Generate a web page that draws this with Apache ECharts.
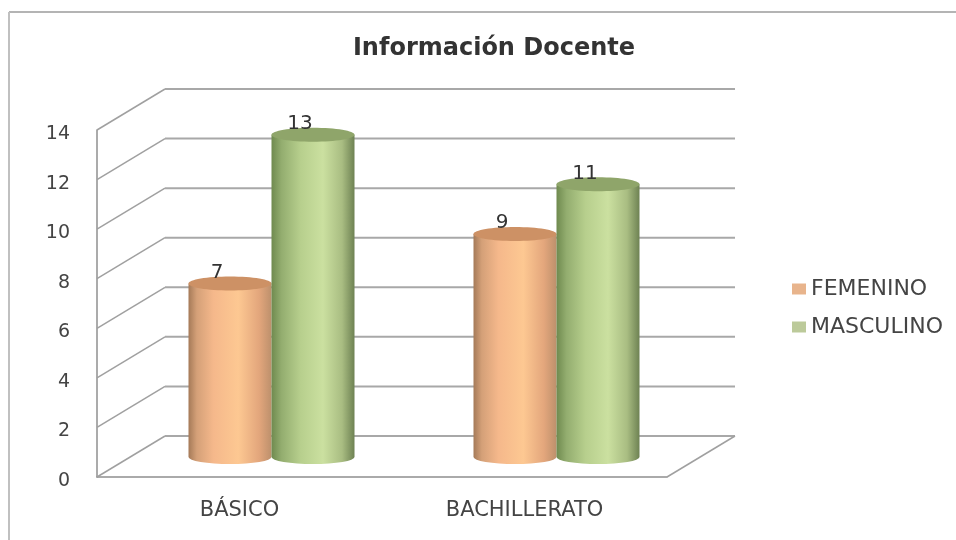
<!DOCTYPE html>
<html><head><meta charset="utf-8">
<style>html,body{margin:0;padding:0;background:#fff}#c{width:956px;height:540px}</style>
<script src="https://cdn.jsdelivr.net/npm/echarts@6/dist/echarts.min.js"></script>
</head><body><div id="c"></div>
<script>
const categories = ['BÁSICO', 'BACHILLERATO'];
const femenino = [7, 9];
const masculino = [13, 11];
const ticks = [0, 2, 4, 6, 8, 10, 12, 14];
const FONT = '"DejaVu Sans"';
const DX = 68, DY = -41;

function grad(stops){
  return {type:'linear',x:0,y:0,x2:1,y2:0,colorStops:stops.map(s=>({offset:s[0],color:s[1]}))};
}
const orangeBody = grad([[0,'#a57a58'],[0.1,'#d4a078'],[0.3,'#f5b88b'],[0.6,'#fdc892'],[0.85,'#e3a67c'],[1,'#bd906c']]);
const greenBody = grad([[0,'#6f8a4f'],[0.12,'#93ad6f'],[0.35,'#b7cf8d'],[0.62,'#cbe0a0'],[0.85,'#a9bd82'],[1,'#6e8253']]);

function cyl(side, body, topColor){
  return function(params, api){
    const cat = api.value(0), v = api.value(1);
    const rx = 41.5, ry = 7, depth = -20;
    const cx = api.coord([cat,0])[0] + 32 + side*41.5;
    const yb = api.coord([cat,0])[1] + depth;
    const yt = api.coord([cat,v])[1] + depth;
    return {type:'group',children:[
      {type:'path',shape:{pathData:
        `M${cx-rx} ${yt} L${cx-rx} ${yb} A${rx} ${ry} 0 0 0 ${cx+rx} ${yb} L${cx+rx} ${yt} Z`,
        x:cx-rx,y:yt,width:rx*2,height:yb-yt+ry,layout:'cover'},style:{fill:body}},
      {type:'ellipse',shape:{cx:cx,cy:yt,rx:rx,ry:ry},style:{fill:topColor}},
      {type:'text',x:cx-13,y:yt-11,style:{text:String(v),font:'20px '+FONT,fill:'#333',align:'center',verticalAlign:'middle'}}
    ]};
  };
}

const option = {
  animation:false,
  title:{text:'Información Docente',left:489,top:32,textAlign:'center',
    textStyle:{fontFamily:FONT,fontWeight:'bold',fontSize:24,color:'#333'}},
  legend:{orient:'vertical',left:787,top:273,itemWidth:14,itemHeight:11,itemGap:16,icon:'rect',
    data:['FEMENINO','MASCULINO'],
    textStyle:{fontFamily:FONT,fontSize:22,color:'#444'}},
  grid:{left:97,right:289,top:130,bottom:63},
  xAxis:{type:'category',data:categories,
    axisLine:{lineStyle:{color:'#8f8f8f',width:1.5}},axisTick:{show:false},
    axisLabel:{fontFamily:FONT,fontSize:21,color:'#444',margin:23}},
  yAxis:{type:'value',min:0,max:14,interval:2,
    axisLine:{show:true,lineStyle:{color:'#8f8f8f',width:1.5}},axisTick:{show:false},
    splitLine:{show:false},
    axisLabel:{fontFamily:FONT,fontSize:19,color:'#444',margin:27,verticalAlign:'top',lineHeight:8}},
  graphic:[
    {type:'line',silent:true,shape:{x1:9,y1:12,x2:956,y2:12},style:{stroke:'#b4b4b4',lineWidth:2}},
    {type:'line',silent:true,shape:{x1:9,y1:12,x2:9,y2:540},style:{stroke:'#c0c0c0',lineWidth:2}}
  ],
  series:[
    {type:'custom',name:'walls',z:1,silent:true,data:ticks.map(t=>[0,t]),
      encode:{x:0,y:1},
      renderItem(params,api){
        const v = api.value(1), cs = params.coordSys;
        const y = api.coord([0,v])[1], x0 = cs.x, x1 = cs.x+cs.width;
        const kids = [
          {type:'line',shape:{x1:x0,y1:y,x2:x0+DX,y2:y+DY},style:{stroke:'#a0a0a0',lineWidth:1.5}},
          {type:'line',shape:{x1:x0+DX,y1:y+DY,x2:x1+DX,y2:y+DY},style:{stroke:'#a8a8a8',lineWidth:2}}
        ];
        if(v===0) kids.push({type:'line',shape:{x1:x1,y1:y,x2:x1+DX,y2:y+DY},style:{stroke:'#a0a0a0',lineWidth:1.5}});
        return {type:'group',children:kids};
      }},
    {type:'custom',name:'FEMENINO',z:3,itemStyle:{color:'#e8b48c'},
      data:femenino.map((v,i)=>[i,v]),encode:{x:0,y:1},
      renderItem:cyl(-1,orangeBody,'#cd9165')},
    {type:'custom',name:'MASCULINO',z:4,itemStyle:{color:'#bcca9a'},
      data:masculino.map((v,i)=>[i,v]),encode:{x:0,y:1},
      renderItem:cyl(1,greenBody,'#8fa56a')}
  ]
};
echarts.init(document.getElementById('c')).setOption(option);
</script></body></html>
